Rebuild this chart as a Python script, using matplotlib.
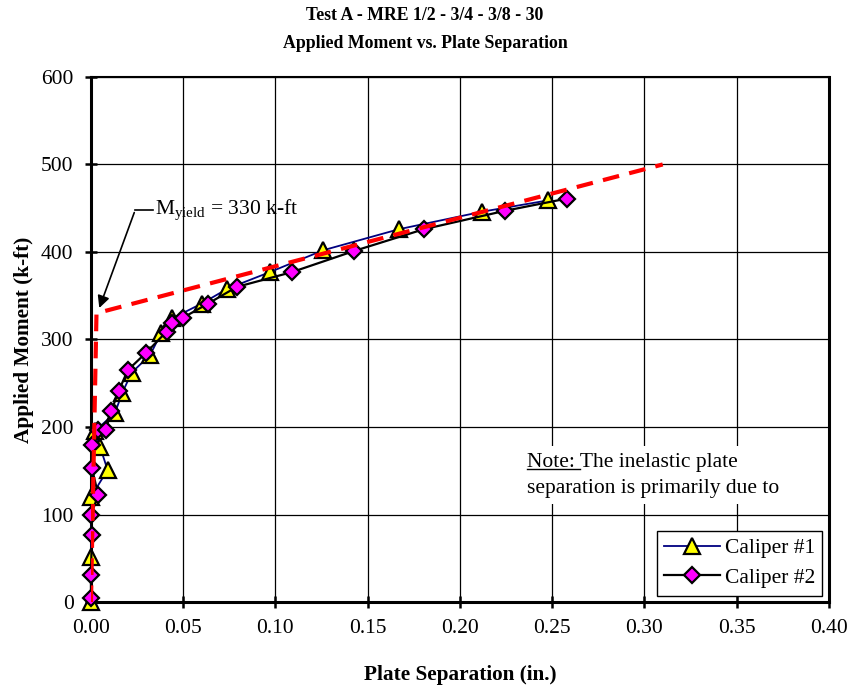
import numpy as np
import matplotlib
matplotlib.use("Agg")
import matplotlib.pyplot as plt

plt.rcParams["font.family"] = ["Liberation Serif", "DejaVu Serif"]
plt.rcParams["mathtext.fontset"] = "custom"
plt.rcParams["mathtext.rm"] = "Liberation Serif"
plt.rcParams["mathtext.it"] = "Liberation Serif:italic"

# Data
sep1 = [0, 0, 0, 0.009, 0.005, 0.002, 0.013, 0.017, 0.022, 0.032, 0.038,
        0.044, 0.060, 0.074, 0.097, 0.126, 0.167, 0.212, 0.248]
mom1 = [0, 51, 120, 151, 177, 195, 216, 239, 262, 282, 307,
        324, 341, 358, 377, 402, 426, 446, 459]

sep2 = [0, 0, 0.0005, 0, 0.004, 0.0005, 0.0005, 0.004, 0.008, 0.011, 0.015,
        0.020, 0.030, 0.041, 0.044, 0.050, 0.0635, 0.079, 0.109, 0.1425,
        0.1805, 0.2244, 0.258]
mom2 = [5, 31, 77, 100, 122, 153, 179, 196, 197, 218, 241,
        265, 285, 309, 319, 325, 341, 360, 377, 401,
        426, 447, 461]

# bilinear idealisation
bil_x = [0, 0.003, 0.31]
bil_y = [0, 330, 500]
m_yield = 330

xticks = np.arange(0, 0.401, 0.05)
yticks = np.arange(0, 601, 100)

fig = plt.figure(figsize=(8.5, 6.9), dpi=100)
ax = fig.add_axes([0.107, 0.1275, 0.868, 0.761])

ax.plot(sep1, mom1, color="#000080", lw=1.3, marker="^", ms=11,
        mfc="#FFFF00", mec="black", mew=1.6, label="Caliper #1",
        clip_on=False, zorder=4)
ax.plot(sep2, mom2, color="black", lw=1.6, marker="D", ms=8,
        mfc="#FF00FF", mec="black", mew=1.6, label="Caliper #2",
        clip_on=False, zorder=5)
ax.plot(bil_x, bil_y, color="#FF0000", lw=3, ls=(0, (4, 2.5)), zorder=6)

ax.set_xlim(0, 0.40)
ax.set_ylim(0, 600)
ax.set_xticks(xticks)
ax.set_yticks(yticks)
ax.set_xticklabels(["%.2f" % t for t in xticks])
ax.grid(True, color="black", lw=0.9)
ax.set_axisbelow(True)
ax.tick_params(direction="inout", length=9, width=1.8, labelsize=15.5,
               pad=8)
for s in ax.spines.values():
    s.set_linewidth(2.2)
ax.spines["top"].set_linewidth(1.5)

ax.set_xlabel("Plate Separation (in.)", fontsize=15.3, fontweight="bold",
              labelpad=19)
ax.set_ylabel("Applied Moment (k-ft)", fontsize=15.3, fontweight="bold",
              labelpad=5)
fig.suptitle("Test A - MRE 1/2 - 3/4 - 3/8 - 30\nApplied Moment vs. Plate Separation",
             fontsize=12.8, fontweight="bold", y=0.99, linespacing=1.85)

# yield annotation
ax.text(0.0345, 448, r"M$_{\mathrm{yield}}$ = 330 k-ft", fontsize=15.5,
        va="center", ha="left")
ax.plot([0.024, 0.0335], [448, 448], color="black", lw=1.2)
ax.annotate("", xy=(0.004, m_yield + 3), xytext=(0.024, 448),
            arrowprops=dict(arrowstyle="-|>", color="black", lw=1.2,
                            mutation_scale=18))

# note box
note_x, note_y = 0.2365, 170
ax.text(note_x, note_y, "Note: The inelastic plate\nseparation is primarily due to",
        fontsize=15.5, ha="left", va="top", linespacing=1.45,
        bbox=dict(facecolor="white", edgecolor="none", pad=5), zorder=3)
word = ax.text(note_x, note_y, "Note: ", fontsize=15.5, ha="left", va="top",
               alpha=0)
fig.canvas.draw()
bb = word.get_window_extent().transformed(ax.transData.inverted())
ax.plot([bb.x0, bb.x1], [bb.y0 + 3.5, bb.y0 + 3.5], color="black", lw=1.0,
        zorder=4)

leg = ax.legend(loc="lower right", fontsize=15.5, fancybox=False,
                edgecolor="black", framealpha=1, borderpad=0.35,
                handlelength=2.6, handletextpad=0.2, labelspacing=0.45,
                borderaxespad=0.3)
leg.get_frame().set_linewidth(1.0)
leg.set_zorder(10)

fig.savefig("out.png", dpi=100)
